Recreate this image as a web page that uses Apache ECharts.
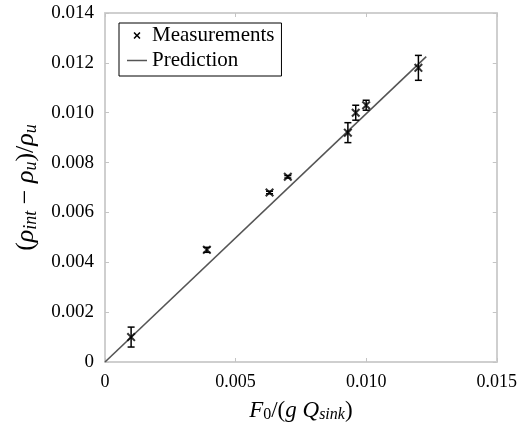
<!DOCTYPE html>
<html><head><meta charset="utf-8">
<script src="https://cdn.jsdelivr.net/npm/echarts@6/dist/echarts.min.js"></script>
<style>html,body{margin:0;padding:0;background:#fff}#c{width:520px;height:429px}</style>
</head><body><div id="c"></div>
<script>
// Measurements: x, y, error half-width
var measX = [0.0010, 0.0039, 0.0063, 0.0070, 0.0093, 0.0096, 0.0100, 0.0120];
var measY = [0.0010, 0.0045, 0.0068, 0.00743, 0.0092, 0.0100, 0.0103, 0.0118];
var measErr = [0.0004, 0.0001, 0.00005, 0.00005, 0.0004, 0.0003, 0.0002, 0.0005];
// Prediction line endpoints
var predX = [0, 0.0123];
var predY = [0, 0.01225];
var xTicks = [0, 0.005, 0.010, 0.015];
var yTicks = [0, 0.002, 0.004, 0.006, 0.008, 0.010, 0.012, 0.014];

var FONT = '"Liberation Serif", "DejaVu Serif", serif';
var chart = echarts.init(document.getElementById('c'));
var scatterData = measX.map(function(x,i){return [x, measY[i]];});
var errData = measX.map(function(x,i){return [x, measY[i]-measErr[i], measY[i]+measErr[i]];});
var lineData = predX.map(function(x,i){return [x, predY[i]];});
var xSym = 'path://M0,1.6 L1.6,0 L5,3.4 L8.4,0 L10,1.6 L6.6,5 L10,8.4 L8.4,10 L5,6.6 L1.6,10 L0,8.4 L3.4,5 Z';
var lineIcon = 'path://M0,0 L20,0 L20,1.5 L0,1.5 Z';

function axisCommon(){
  return {
    axisLine:{show:true, onZero:false, lineStyle:{color:'#cfcfcf', width:2}},
    axisTick:{show:true, inside:true, length:4, lineStyle:{color:'#c4c4c4', width:1}},
    splitLine:{show:false}
  };
}
chart.setOption({
  animation:false,
  backgroundColor:'#fff',
  grid:{left:105, right:21, top:13, bottom:67},
  legend:{
    show:true, left:119, top:23, orient:'vertical',
    data:[{name:'Measurements', icon:xSym}, {name:'Prediction', icon:lineIcon}],
    itemWidth:20, itemHeight:7, itemGap:4,
    borderColor:'#000', borderWidth:1, padding:[2,7,5,8],
    textStyle:{fontFamily:FONT, fontSize:21, color:'#000'}
  },
  xAxis:[Object.assign(axisCommon(), {
    type:'value', min:0, max:0.015, interval:0.005, position:'bottom',
    axisLabel:{fontFamily:FONT, fontSize:18, color:'#000', margin:11,
      formatter:function(v){return v===0?'0':v.toFixed(3);}},
    name:'{i|F}{s|0}{n|/(}{i|g Q}{si|sink}{n|)}',
    nameLocation:'middle', nameGap:36,
    nameTextStyle:{fontFamily:FONT, fontSize:23, color:'#000', rich:{
      i:{fontFamily:FONT, fontStyle:'italic', fontSize:23, color:'#000'},
      n:{fontFamily:FONT, fontSize:23, color:'#000'},
      s:{fontFamily:FONT, fontSize:16, color:'#000', padding:[9,0,0,0]},
      si:{fontFamily:FONT, fontStyle:'italic', fontSize:16, color:'#000', padding:[9,0,0,0]}
    }}
  }), Object.assign(axisCommon(), {
    type:'value', min:0, max:0.015, interval:0.005, position:'top', axisLabel:{show:false}
  })],
  yAxis:[Object.assign(axisCommon(), {
    type:'value', min:0, max:0.014, interval:0.002, position:'left',
    axisLabel:{fontFamily:FONT, fontSize:19, color:'#000', margin:11,
      formatter:function(v){return v===0?'0':v.toFixed(3);}},
    name:'{n|(}{i|ρ}{si|int}{n| − }{i|ρ}{si|u}{n|)/}{i|ρ}{si|u}',
    nameLocation:'middle', nameGap:63, nameRotate:90,
    nameTextStyle:{fontFamily:FONT, fontSize:26, color:'#000', rich:{
      i:{fontFamily:FONT, fontStyle:'italic', fontSize:26, color:'#000'},
      n:{fontFamily:FONT, fontSize:26, color:'#000'},
      si:{fontFamily:FONT, fontStyle:'italic', fontSize:18, color:'#000', padding:[11,0,0,0]}
    }}
  }), Object.assign(axisCommon(), {
    type:'value', min:0, max:0.014, interval:0.002, position:'right', axisLabel:{show:false}
  })],
  series:[
    {name:'Prediction', type:'line', data:lineData, showSymbol:false, symbol:'none',
     lineStyle:{color:'#555', width:1.6}, itemStyle:{color:'#555'}, z:2},
    {name:'Measurements', type:'custom', data:errData, z:3,
     renderItem:function(params, api){
       var x = api.value(0);
       var lo = api.coord([x, api.value(1)]);
       var hi = api.coord([x, api.value(2)]);
       var w = 3.5;
       return {type:'group', children:[
         {type:'line', shape:{x1:lo[0], y1:lo[1], x2:hi[0], y2:hi[1]}, style:{stroke:'#000', lineWidth:1.5}},
         {type:'line', shape:{x1:lo[0]-w, y1:lo[1], x2:lo[0]+w, y2:lo[1]}, style:{stroke:'#000', lineWidth:1.5}},
         {type:'line', shape:{x1:hi[0]-w, y1:hi[1], x2:hi[0]+w, y2:hi[1]}, style:{stroke:'#000', lineWidth:1.5}}
       ]};
     }, itemStyle:{color:'#000'}},
    {name:'Measurements', type:'scatter', data:scatterData, symbol:xSym, symbolSize:9,
     itemStyle:{color:'#000'}, z:4}
  ]
});
</script></body></html>
